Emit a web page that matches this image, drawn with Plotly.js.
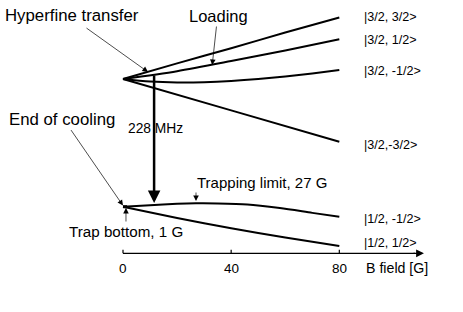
<!DOCTYPE html>
<html>
<head>
<meta charset="utf-8">
<script src="https://cdn.plot.ly/plotly-3.0.1.min.js"></script>
<style>html,body{margin:0;padding:0;background:#fff;}#chart{width:463px;height:312px;}</style>
</head>
<body>
<div id="chart"></div>
<script>
// Magnetic field (G) and energies (MHz, relative to F=1/2 zero-field level)
const B_a = [0, 20, 40, 60, 80];
const E_32_32 = [228, 256, 283, 311, 338];
const B_b = [0, 20, 40, 60, 80];
const E_32_12 = [228, 242, 260, 279, 299];
const B_c = [0, 10, 20, 30, 40, 50, 60, 70, 80];
const E_32_m12 = [228, 223.5, 221.8, 222.3, 224.5, 228, 232.5, 238, 244];
const B_d = [0, 40, 80];
const E_32_m32 = [228, 172, 116];
const B_e = [0, 10, 20, 27, 35, 46, 58, 70, 80];
const E_12_m12 = [0, 2.8, 5.2, 6, 5.8, 4, -2.5, -11, -18];
const B_f = [0, 20, 40, 60, 80];
const E_12_12 = [0, -20, -38.5, -55, -70];
const stateLabels = ['|3/2, 3/2>', '|3/2, 1/2>', '|3/2, -1/2>', '|3/2,-3/2>', '|1/2, -1/2>', '|1/2, 1/2>'];
const tickVals = [0, 40, 80];
const tickText = ['0', '40', '80'];

const FONT = 'Liberation Sans, Arial, Helvetica, sans-serif';
const AXIS_E = -83.2;
function curve(x, y) {
  return {x: x, y: y, type: 'scatter', mode: 'lines', line: {color: '#000', width: 2, shape: 'spline', smoothing: 0.8}, hoverinfo: 'skip', showlegend: false};
}
const data = [
  curve(B_a, E_32_32), curve(B_b, E_32_12), curve(B_c, E_32_m12),
  curve(B_d, E_32_m32), curve(B_e, E_12_m12), curve(B_f, E_12_12)
];
// tick marks of the B axis, drawn as a trace
const tx = [], ty = [];
tickVals.forEach(v => { tx.push(v, v, null); ty.push(AXIS_E, AXIS_E + 6.5, null); });
data.push({x: tx, y: ty, type: 'scatter', mode: 'lines', line: {color: '#000', width: 1.2}, hoverinfo: 'skip', showlegend: false, connectgaps: false});

const labelY = [339, 298, 242, 110, -22, -65];
const ann = [];
stateLabels.forEach((t, i) => {
  ann.push({x: 88.3, y: labelY[i], text: t, showarrow: false, xanchor: 'left', yanchor: 'middle', font: {family: FONT, size: 12.6, color: '#000'}});
});
function txt(x, y, t, size) {
  ann.push({x: x, y: y, text: t, showarrow: false, xanchor: 'left', yanchor: 'middle', font: {family: FONT, size: size, color: '#000'}});
}
txt(-44.4, 341, 'Hyperfine transfer', 16.8);
txt(23.8, 341, 'Loading', 16.5);
txt(-42.9, 155, 'End of cooling', 16.8);
txt(1.2, 140, '228 MHz', 13.8);
txt(26.8, 44, 'Trapping limit, 27 G', 15);
txt(-20.8, -44, 'Trap bottom, 1 G', 15.2);
txt(89.2, -109.5, 'B field [G]', 14.2);
tickVals.forEach((v, i) => {
  ann.push({x: v, y: -109.5, text: tickText[i], showarrow: false, xanchor: 'center', yanchor: 'middle', font: {family: FONT, size: 13.5, color: '#000'}});
});

function arr(x, y, ax, ay, w, head, size) {
  ann.push({x: x, y: y, ax: ax, ay: ay, text: '', showarrow: true, arrowhead: head, arrowsize: size, arrowwidth: w, arrowcolor: '#000'});
}
arr(9.25, 240.5, -63, -45, 0.7, 2, 1.6);
arr(33.0, 253.0, 4.4, -40, 0.7, 2, 1.6);
arr(0, 2, -53, -77, 0.7, 2, 1.6);
arr(1.1, -2.3, 0, 15, 0.7, 2, 1.6);
arr(27, 10.2, 0, -10, 0.7, 2, 1.6);
// 228 MHz transfer arrow
ann.push({x: 11.5, y: 6.6, ax: 11.5, ay: 237, axref: 'x', ayref: 'y', text: '', showarrow: true, arrowhead: 2, arrowsize: 1, arrowwidth: 2.5, arrowcolor: '#000'});
// B axis arrow head
ann.push({x: 111.3, y: AXIS_E, ax: -12, ay: 0, text: '', showarrow: true, arrowhead: 2, arrowsize: 1.2, arrowwidth: 1.3, arrowcolor: '#000'});

const shapes = [
  {type: 'line', xref: 'x', yref: 'y', x0: 0, x1: 108, y0: AXIS_E, y1: AXIS_E, line: {color: '#000', width: 1.3}},
  {type: 'line', xref: 'x', yref: 'y', x0: 0, x1: 1.5, y0: 0, y1: 0, line: {color: '#000', width: 3}}
];

const layout = {
  width: 463, height: 312,
  margin: {l: 0, r: 0, t: 0, b: 0},
  paper_bgcolor: '#fff', plot_bgcolor: '#fff',
  showlegend: false,
  xaxis: {range: [-45.49, 125.74], visible: false, fixedrange: true},
  yaxis: {range: [-188.0, 369.1], visible: false, fixedrange: true},
  annotations: ann,
  shapes: shapes
};
Plotly.newPlot('chart', data, layout, {staticPlot: true, displayModeBar: false});
</script>
</body>
</html>
